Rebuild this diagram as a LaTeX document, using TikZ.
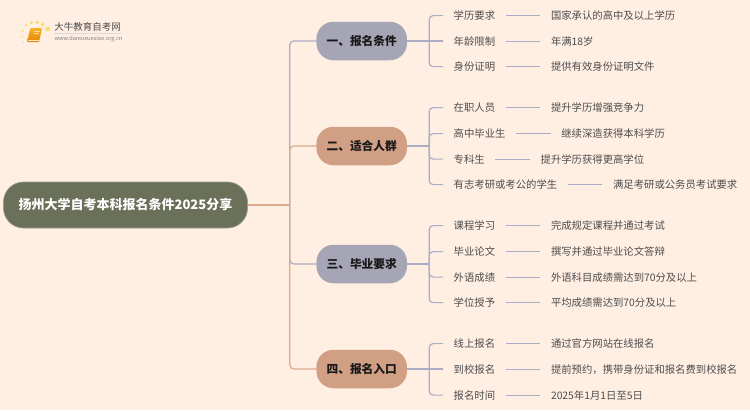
\documentclass[tikz,border=0pt]{standalone}
\usepackage{fontspec}
\setmainfont{Noto Sans CJK SC}
\usepackage{tikz}
\usetikzlibrary{positioning}

\definecolor{paper}{HTML}{FFEEE2}
\definecolor{rootfill}{HTML}{6B7059}
\definecolor{slatefill}{HTML}{A6A5B6}
\definecolor{clayfill}{HTML}{D09F84}
\definecolor{slateline}{HTML}{ABACC6}
\definecolor{clayline}{HTML}{DDA98C}
\definecolor{itemtext}{HTML}{4D4D4D}
\definecolor{bookhigh}{HTML}{F7B21F}
\definecolor{booklow}{HTML}{E9820E}

\tikzset{
  rootbox/.style={draw=rootfill!70!white, line width=0.6pt, fill=rootfill, rounded corners=20pt, minimum width=244pt, minimum height=46pt, inner sep=0pt, text=white, font=\fontsize{13}{15}\selectfont\bfseries},
  catbox/.style={rounded corners=17pt, minimum width=90.5pt, minimum height=38.5pt, inner sep=0pt, text=black!90, font=\fontsize{11.7}{14}\selectfont\bfseries},
  slatebox/.style={catbox, fill=slatefill},
  claybox/.style={catbox, fill=clayfill},
  leafbox/.style={inner xsep=10.5pt, inner ysep=2pt, text=itemtext, font=\fontsize{10.35}{12}\selectfont},
  itembox/.style={leafbox, anchor=west, yshift=-0.6pt},
  detailbox/.style={leafbox, right=34.5pt of #1},
  slatelink/.style={draw=slateline, line width=1.2pt, rounded corners=4pt},
  claylink/.style={draw=clayline, line width=1.2pt, rounded corners=4pt},
  logodot/.style={fill=yellow!65!orange, opacity=0.55},
}

\begin{document}
\begin{tikzpicture}[x=1pt,y=1pt]
\useasboundingbox (0,0) rectangle (750,-410);
\fill[paper] (0,0) rectangle (750,-410);
%%%%%%%%%%%%%% logo
\fill[logodot] (47.7,-29) circle (2.3);
\fill[logodot] (42.7,-24.3) circle (1.9);
\fill[logodot] (37.3,-22.3) circle (1.9);
\fill[logodot] (31.3,-22.7) circle (1.7);
\fill[logodot] (26,-25.3) circle (1.4);
\fill[logodot] (22.7,-30.7) circle (1.2);
\fill[logodot] (22,-36.7) circle (1);
\fill[logodot] (23.3,-42.3) circle (0.8);
\shade[top color=bookhigh, bottom color=booklow, rounded corners=1pt] (30.3,-28.2) -- (42,-28.2) -- (39,-42.2) -- (27,-42.2) -- cycle;
\draw[bookhigh!45!white, line width=0.4pt] (34,-31) -- (39.5,-31);
\draw[bookhigh!45!white, line width=0.4pt] (33.6,-33) -- (39,-33);
\draw[bookhigh!30!white, line width=0.6pt] (28,-40.6) -- (38.7,-40.6);
\node[inner sep=0pt, text=black!70, font=\fontsize{9.5}{11}\selectfont] (logotitle) at (87.5,-27) {大牛教育自考网};
\node[inner sep=0pt, text=black!50, font=\fontsize{5.6}{7}\selectfont] (logourl) at (88.5,-39) {www.daniuxuexiao.org.cn};
\draw[black!15, line width=0.5pt] (54,-33.3) -- (121,-33.3);
%%%%%%%%%%%%%% root and branches
\node[rootbox] (root) at (125.5,-205) {扬州大学自考本科报名条件2025分享};
\coordinate[right=42pt of root.east] (trunk);
\node[slatebox] (catA) at (361.7,-41) {一、报名条件};
\node[claybox] (catB) at (361.7,-146) {二、适合人群};
\node[slatebox] (catC) at (361.7,-264) {三、毕业要求};
\node[claybox] (catD) at (361.7,-369) {四、报名入口};
\coordinate[right=22pt of catA.east] (juncA);
\coordinate[right=22pt of catB.east] (juncB);
\coordinate[right=22pt of catC.east] (juncC);
\coordinate[right=22pt of catD.east] (juncD);
%%%%%%%%%%%%%% first group
\node[itembox] (itemA1) at (443,-15) {学历要求};
\node[itembox] (itemA2) at (443,-41) {年龄限制};
\node[itembox] (itemA3) at (443,-66) {身份证明};
\node[detailbox=itemA1] (textA1) {国家承认的高中及以上学历};
\node[detailbox=itemA2] (textA2) {年满18岁};
\node[detailbox=itemA3] (textA3) {提供有效身份证明文件};
%%%%%%%%%%%%%% second group
\node[itembox] (itemB1) at (443,-107) {在职人员};
\node[itembox] (itemB2) at (443,-133) {高中毕业生};
\node[itembox] (itemB3) at (443,-158.5) {专科生};
\node[itembox] (itemB4) at (443,-184) {有志考研或考公的学生};
\node[detailbox=itemB1] (textB1) {提升学历增强竞争力};
\node[detailbox=itemB2] (textB2) {继续深造获得本科学历};
\node[detailbox=itemB3] (textB3) {提升学历获得更高学位};
\node[detailbox=itemB4] (textB4) {满足考研或公务员考试要求};
%%%%%%%%%%%%%% third group
\node[itembox] (itemC1) at (443,-225) {课程学习};
\node[itembox] (itemC2) at (443,-251) {毕业论文};
\node[itembox] (itemC3) at (443,-276.5) {外语成绩};
\node[itembox] (itemC4) at (443,-302) {学位授予};
\node[detailbox=itemC1] (textC1) {完成规定课程并通过考试};
\node[detailbox=itemC2] (textC2) {撰写并通过毕业论文答辩};
\node[detailbox=itemC3] (textC3) {外语科目成绩需达到70分及以上};
\node[detailbox=itemC4] (textC4) {平均成绩需达到70分及以上};
%%%%%%%%%%%%%% fourth group
\node[itembox] (itemD1) at (443,-343) {线上报名};
\node[itembox] (itemD2) at (443,-369) {到校报名};
\node[itembox] (itemD3) at (443,-394.5) {报名时间};
\node[detailbox=itemD1] (textD1) {通过官方网站在线报名};
\node[detailbox=itemD2] (textD2) {提前预约，携带身份证和报名费到校报名};
\node[detailbox=itemD3] (textD3) {2025年1月1日至5日};
%%%%%%%%%%%%%% links
\draw[slatelink] (trunk) |- (catA.west);
\draw[slatelink] (trunk) |- (catC.west);
\draw[claylink] (trunk) |- (catB.west);
\draw[claylink] (trunk) |- (catD.west);
\draw[claylink] (root.east) -- (trunk);
%%%%%%%%%%%%%%
\draw[slatelink] (catA.east) -- (juncA);
\draw[slatelink] (juncA) |- (itemA1.west);
\draw[slatelink] (juncA) -- (juncA -| itemA2.west);
\draw[slatelink] (juncA) |- (itemA3.west);
\draw[slatelink] (itemA1) -- (textA1);
\draw[slatelink] (itemA2) -- (textA2);
\draw[slatelink] (itemA3) -- (textA3);
%%%%%%%%%%%%%%
\draw[slatelink] (catB.east) -- (juncB);
\draw[slatelink] (juncB) |- (itemB1.west);
\draw[slatelink] (juncB) |- (itemB2.west);
\draw[slatelink] (juncB) |- (itemB3.west);
\draw[slatelink] (juncB) |- (itemB4.west);
\draw[slatelink] (itemB1) -- (textB1);
\draw[slatelink] (itemB2) -- (textB2);
\draw[slatelink] (itemB3) -- (textB3);
\draw[slatelink] (itemB4) -- (textB4);
%%%%%%%%%%%%%%
\draw[slatelink] (catC.east) -- (juncC);
\draw[slatelink] (juncC) |- (itemC1.west);
\draw[slatelink] (juncC) |- (itemC2.west);
\draw[slatelink] (juncC) |- (itemC3.west);
\draw[slatelink] (juncC) |- (itemC4.west);
\draw[slatelink] (itemC1) -- (textC1);
\draw[slatelink] (itemC2) -- (textC2);
\draw[slatelink] (itemC3) -- (textC3);
\draw[slatelink] (itemC4) -- (textC4);
%%%%%%%%%%%%%%
\draw[slatelink] (catD.east) -- (juncD);
\draw[slatelink] (juncD) |- (itemD1.west);
\draw[slatelink] (juncD) -- (juncD -| itemD2.west);
\draw[slatelink] (juncD) |- (itemD3.west);
\draw[slatelink] (itemD1) -- (textD1);
\draw[slatelink] (itemD2) -- (textD2);
\draw[slatelink] (itemD3) -- (textD3);
\end{tikzpicture}
\end{document}
